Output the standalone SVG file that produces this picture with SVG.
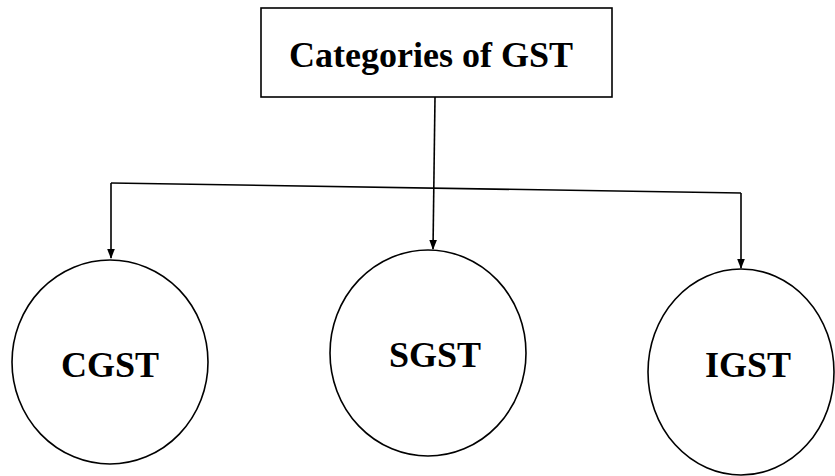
<svg xmlns="http://www.w3.org/2000/svg" width="835" height="476" viewBox="0 0 835 476">
<style>
.box{fill:#fff;stroke:#000;stroke-width:1.6}
.node{fill:#fff;stroke:#000;stroke-width:1.6}
.lbl{font-family:"Liberation Serif","Times New Roman",serif;font-weight:bold;font-size:36px;fill:#000;text-anchor:middle}
.conn{fill:none;stroke:#000;stroke-width:1.6}
</style>
<defs>
<marker id="ah" markerWidth="10" markerHeight="10" refX="9" refY="5" orient="auto" markerUnits="userSpaceOnUse">
<path d="M0,1.2 L10,5 L0,8.8 Z" fill="#000"/>
</marker>
</defs>
<rect width="835" height="476" fill="#fff"/>
<g id="connectors">
<path class="conn" d="M435,97 L433,249" marker-end="url(#ah)"/>
<path class="conn" d="M111,183 L741,193"/>
<path class="conn" d="M111,183 L111,258" marker-end="url(#ah)"/>
<path class="conn" d="M741,193 L741,268" marker-end="url(#ah)"/>
</g>
<g id="root">
<rect class="box" x="261" y="8" width="351" height="89"/>
<text class="lbl" x="431" y="67">Categories of GST</text>
</g>
<g id="cgst">
<ellipse class="node" cx="110" cy="362" rx="98" ry="102"/>
<text class="lbl" x="110" y="377">CGST</text>
</g>
<g id="sgst">
<ellipse class="node" cx="428" cy="353" rx="98" ry="103"/>
<text class="lbl" x="435" y="367">SGST</text>
</g>
<g id="igst">
<ellipse class="node" cx="741" cy="372" rx="93" ry="103"/>
<text class="lbl" x="748" y="377">IGST</text>
</g>
</svg>
